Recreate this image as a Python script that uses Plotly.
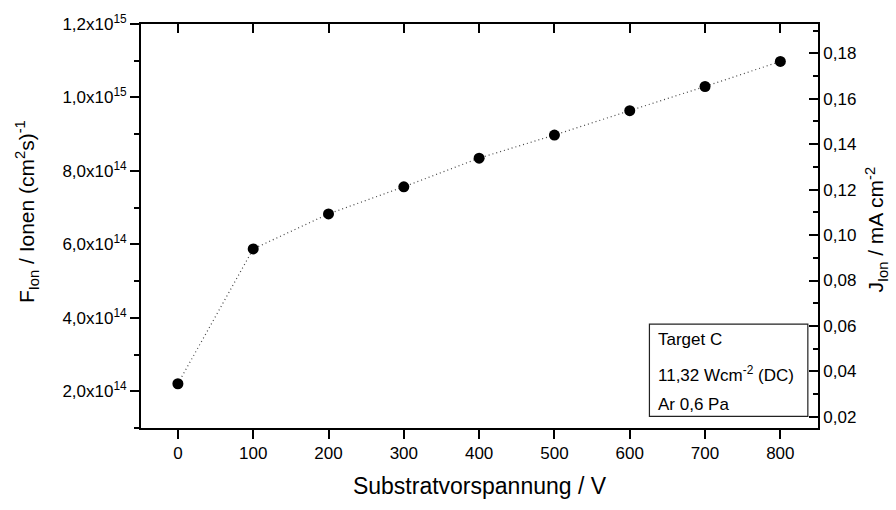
import plotly.graph_objects as go

# Data
voltage = [0, 100, 200, 300, 400, 500, 600, 700, 800]
flux = [2.205e14, 5.875e14, 6.83e14, 7.567e14, 8.348e14, 8.976e14, 9.641e14, 1.0298e15, 1.0981e15]

# Axis ticks
x_ticks = [0, 100, 200, 300, 400, 500, 600, 700, 800]
y_ticks = [2e14, 4e14, 6e14, 8e14, 1e15, 1.2e15]
y_ticktext = ["2,0x10<sup>14</sup>", "4,0x10<sup>14</sup>", "6,0x10<sup>14</sup>",
              "8,0x10<sup>14</sup>", "1,0x10<sup>15</sup>", "1,2x10<sup>15</sup>"]
y_minor = [1e14, 3e14, 5e14, 7e14, 9e14, 1.1e15]
j_ticks = [0.02, 0.04, 0.06, 0.08, 0.10, 0.12, 0.14, 0.16, 0.18]
j_ticktext = ["0,02", "0,04", "0,06", "0,08", "0,10", "0,12", "0,14", "0,16", "0,18"]
j_minor = [0.01, 0.03, 0.05, 0.07, 0.09, 0.11, 0.13, 0.15, 0.17, 0.19]

legend_lines = ["Target C", "11,32 Wcm<sup>-2</sup> (DC)", "Ar 0,6 Pa"]

x_title = "Substratvorspannung / V"
y_title = "F<sub>Ion</sub> / Ionen (cm<sup>2</sup>s)<sup>-1</sup>"
y2_title = "J<sub>Ion</sub> / mA cm<sup>-2</sup>"

FONT = "Liberation Sans, Arial, sans-serif"
x_range = [-49, 850]
y_range = [1.0e14, 1.2e15]
j_range = [0.0151, 0.1929]

fig = go.Figure()
fig.add_trace(go.Scatter(
    x=voltage, y=flux, mode="lines+markers",
    line=dict(color="#444444", width=1.2, dash="1px,3px"),
    marker=dict(color="black", size=11),
    showlegend=False,
))
# invisible trace to create the secondary axes
fig.add_trace(go.Scatter(x=[None], y=[None], xaxis="x2", yaxis="y2",
                         showlegend=False, hoverinfo="skip"))

axis_common = dict(showline=True, linecolor="black", linewidth=1.8,
                   showgrid=False, zeroline=False, tickcolor="black", tickwidth=1.8)

fig.update_layout(
    width=896, height=510,
    margin=dict(l=141, r=78, t=15, b=82),
    paper_bgcolor="white", plot_bgcolor="white",
    font=dict(family=FONT, size=17, color="black"),
    xaxis=dict(range=x_range, tickmode="array", tickvals=x_ticks,
               ticks="outside", ticklen=9,
               title=dict(text=x_title, font=dict(size=23), standoff=16),
               **axis_common),
    xaxis2=dict(range=x_range, overlaying="x", side="top", tickmode="array",
                tickvals=x_ticks, ticks="inside", ticklen=9, showticklabels=False,
                **axis_common),
    yaxis=dict(range=y_range, tickmode="array", tickvals=y_ticks, ticktext=y_ticktext,
               ticks="outside", ticklen=9,
               minor=dict(tickmode="array", tickvals=y_minor, ticks="outside", ticklen=5,
                          tickcolor="black", tickwidth=1.8),
               **axis_common),
    yaxis2=dict(range=j_range, overlaying="y", side="right", tickmode="array",
                tickvals=j_ticks, ticktext=j_ticktext, ticks="inside", ticklen=9,
                minor=dict(tickmode="array", tickvals=j_minor, ticks="inside", ticklen=5,
                           tickcolor="black", tickwidth=1.8),
                **axis_common),
)

# Rotated y-axis titles
fig.add_annotation(text=y_title, xref="paper", yref="paper", x=-0.168, y=0.535,
                   xanchor="center", yanchor="middle", textangle=-90, showarrow=False,
                   font=dict(size=21, family=FONT, color="black"))
fig.add_annotation(text=y2_title, xref="paper", yref="paper", x=1.085, y=0.49,
                   xanchor="center", yanchor="middle", textangle=-90, showarrow=False,
                   font=dict(size=21, family=FONT, color="black"))

# Legend-like text box
fig.add_shape(type="rect", xref="paper", yref="paper",
              x0=0.751, x1=0.985, y0=0.029, y1=0.257,
              line=dict(color="#222222", width=1.2), fillcolor="white", layer="above")
for txt, yy in zip(legend_lines, [0.218, 0.133, 0.058]):
    fig.add_annotation(text=txt, xref="paper", yref="paper", x=0.760, y=yy,
                       xanchor="left", yanchor="middle", showarrow=False,
                       font=dict(size=17, family=FONT, color="black"))

fig.write_html("out.html")
